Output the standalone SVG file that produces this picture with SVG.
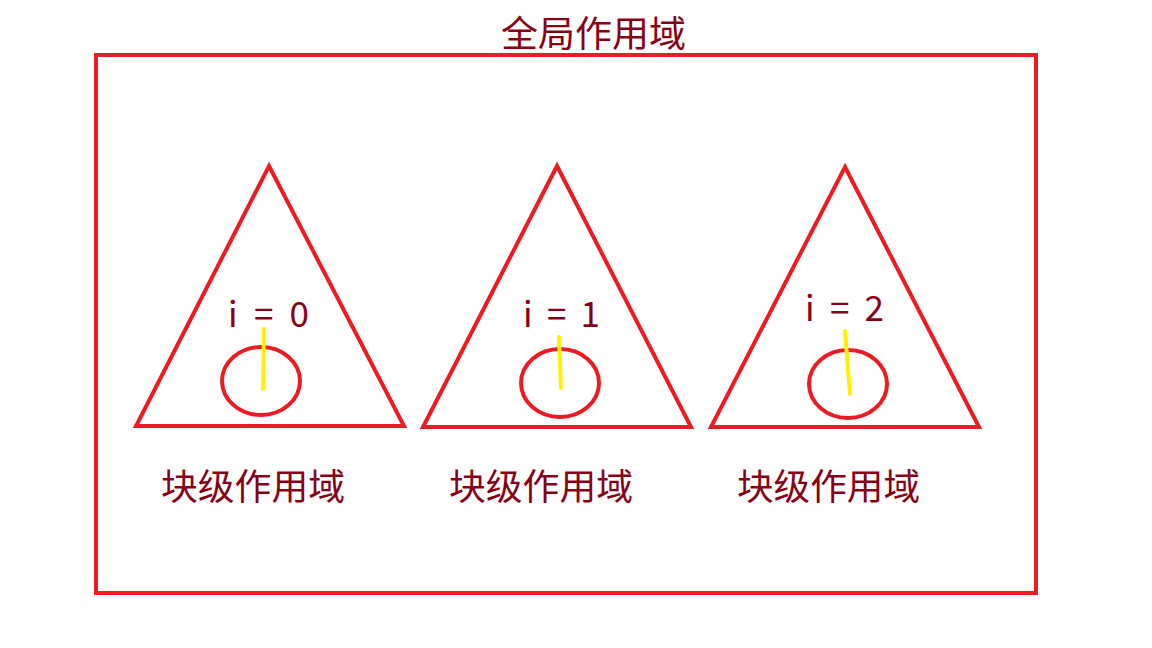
<svg xmlns="http://www.w3.org/2000/svg" width="1152" height="648" viewBox="0 0 1152 648">
<style>
.shape{fill:none;stroke:#ED1C24;stroke-width:4;stroke-linejoin:miter}
.yl{stroke:#FFF200;stroke-width:4;stroke-linecap:round}
.t{font-family:"Microsoft YaHei","Noto Sans CJK SC","Noto Sans",sans-serif;fill:#880015}
.v{font-size:35px}
.l{font-size:36px}
</style>
<rect width="1152" height="648" fill="#ffffff"/>
<g id="global">
<rect class="shape" x="96" y="55" width="940" height="538"/>
<text class="t l" x="501" y="47" textLength="185" lengthAdjust="spacingAndGlyphs">全局作用域</text>
</g>
<g id="block1">
<polygon class="shape" points="269,166 404,426 136,426"/>
<ellipse class="shape" cx="261" cy="381" rx="39" ry="34"/>
<text class="t v" x="228" y="327" textLength="81" lengthAdjust="spacing" xml:space="preserve">i = 0</text>
<text class="t l" x="161" y="500" textLength="184" lengthAdjust="spacingAndGlyphs">块级作用域</text>
</g>
<g id="block2">
<polygon class="shape" points="557,166 691,427 423,427"/>
<ellipse class="shape" cx="560" cy="383" rx="39" ry="34"/>
<text class="t v" x="523" y="327" textLength="77" lengthAdjust="spacing" xml:space="preserve">i = 1</text>
<text class="t l" x="449" y="500" textLength="184" lengthAdjust="spacingAndGlyphs">块级作用域</text>
</g>
<g id="block3">
<polygon class="shape" points="845,167 979,427 711,427"/>
<ellipse class="shape" cx="848" cy="384" rx="39" ry="34"/>
<text class="t v" x="805" y="321" textLength="79" lengthAdjust="spacing" xml:space="preserve">i = 2</text>
<text class="t l" x="737" y="500" textLength="183" lengthAdjust="spacingAndGlyphs">块级作用域</text>
</g>
<g id="connectors">
<line class="yl" x1="264" y1="329" x2="263" y2="389"/>
<line class="yl" x1="559" y1="337" x2="561" y2="388"/>
<line class="yl" x1="845" y1="331" x2="850" y2="394"/>
</g>
</svg>
